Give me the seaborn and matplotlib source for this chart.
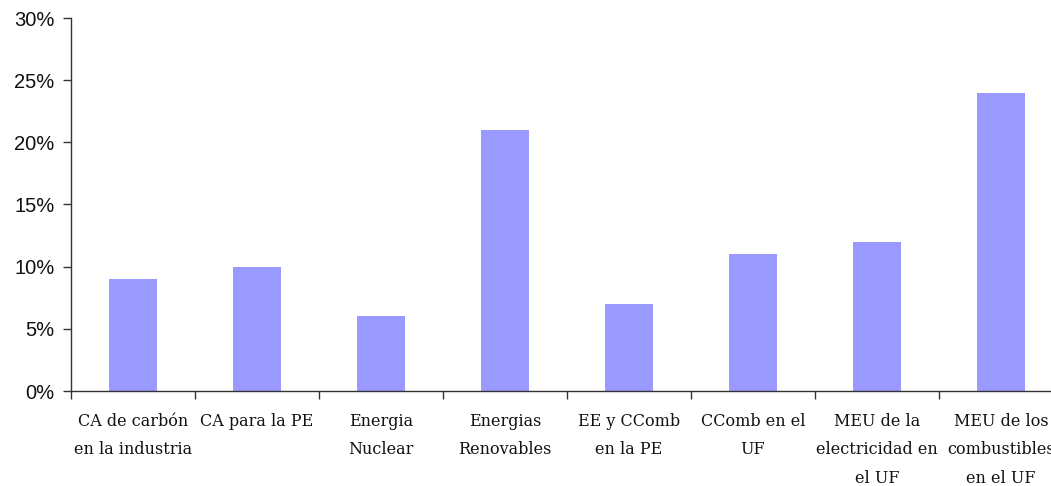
import matplotlib
matplotlib.use("Agg")
import matplotlib.pyplot as plt
import seaborn as sns
import pandas as pd
import numpy as np
from matplotlib.ticker import FixedLocator, PercentFormatter

categorias = [
    "CA de carbón\nen la industria",
    "CA para la PE",
    "Energia\nNuclear",
    "Energias\nRenovables",
    "EE y CComb\nen la PE",
    "CComb en el\nUF",
    "MEU de la\nelectricidad en\nel UF",
    "MEU de los\ncombustibles\nen el UF",
]
valores = [9, 10, 6, 21, 7, 11, 12, 24]
yticks = [0, 5, 10, 15, 20, 25, 30]

df = pd.DataFrame({"cat": categorias, "val": valores})

sns.set_theme(style="white")
fig = plt.figure(figsize=(10.51, 4.86), dpi=100)
W, H = 1051, 486
ax = fig.add_axes([71 / W, (H - 391) / H, 992 / W, (391 - 18) / H])

sns.barplot(data=df, x="cat", y="val", color="#9999FF", saturation=1,
            width=0.39, linewidth=0, ax=ax)

ax.set_xlim(-0.5, len(categorias) - 0.5)
ax.set_ylim(0, 30)
ax.set_yticks(yticks)
ax.yaxis.set_major_formatter(PercentFormatter(decimals=0))
ax.set_xlabel("")
ax.set_ylabel("")

for s in ["top", "right"]:
    ax.spines[s].set_visible(False)
for s in ["left", "bottom"]:
    ax.spines[s].set_color("#333333")
    ax.spines[s].set_linewidth(1.0)

ax.tick_params(axis="y", which="major", direction="out", length=6, width=1,
               color="#333333", labelsize=14.5, pad=6, left=True)
for lab in ax.get_yticklabels():
    lab.set_fontfamily("Liberation Sans")
    lab.set_color("#111111")

ax.xaxis.set_minor_locator(FixedLocator(np.arange(-0.5, len(categorias), 1.0)))
ax.tick_params(axis="x", which="minor", direction="out", length=6, width=1,
               color="#333333", bottom=True)
ax.tick_params(axis="x", which="major", length=0, pad=15.5)
ax.set_xticks(range(len(categorias)))
ax.set_xticklabels(categorias, fontfamily="DejaVu Serif", fontsize=11.5,
                   color="#111111", linespacing=1.9, va="top")

fig.savefig("out.png", dpi=100)
